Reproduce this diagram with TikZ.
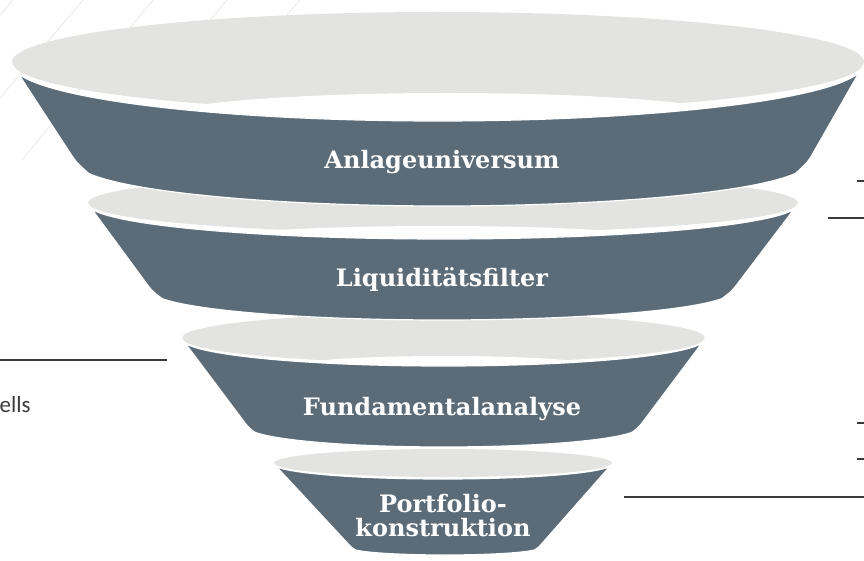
\documentclass[tikz,border=0pt]{standalone}
\usepackage{fontspec}
\usetikzlibrary{calc}
\newfontfamily\slabfont{DejaVu Serif}
\newfontfamily\calfont{Carlito}
\definecolor{funneldark}{HTML}{5B6C78}
\definecolor{funnellight}{HTML}{E3E3E1}
\definecolor{guidegray}{HTML}{3A3A3A}
\definecolor{bglinecol}{HTML}{E8E8E8}
\tikzset{
  darkband/.style={fill=funneldark, draw=white, line width=1.2pt},
  rimfill/.style={fill=funnellight},
  holefill/.style={fill=white},
  stagelabel/.style={font=\slabfont\bfseries\fontsize{24}{24}\selectfont, text=white, inner sep=0pt, align=center},
  guide/.style={draw=guidegray, line width=1.2pt},
  bgline/.style={draw=bglinecol, line width=0.8pt}
}
% #1,#2 top centre (tip height)  #3 top x radius  #4 top sag
% #5,#6 bottom centre (corner height)  #7 bottom x radius  #8 bottom sag
\newcommand\funnelband[8]{%
  \fill[darkband] plot[domain=180:0, samples=90, variable=\t] ({#1+#3*cos(\t)},{#2+#4*sin(\t)})
    -- ($({#1+#3},#2)!0.9!({#5+#7},#6)$) .. controls ({#5+#7},#6) .. ({#5+#7*cos(15)},{#6+#8*sin(15)})
    -- plot[domain=15:165, samples=70, variable=\t] ({#5+#7*cos(\t)},{#6+#8*sin(\t)})
    .. controls ({#5-#7},#6) .. ($({#1-#3},#2)!0.9!({#5-#7},#6)$) -- cycle;}
\begin{document}
\begin{tikzpicture}[x=1pt,y=-1pt]
\useasboundingbox (0,0) rectangle (864,561);
% faint background lines
\begin{scope}
\clip (0,0) rectangle (864,561);
\draw[bgline] (13,0) -- (0,15);
\draw[bgline] (83,0) -- (0,98);
\draw[bgline] (153,0) -- (22,160);
\draw[bgline] (227,0) -- (205,26);
\draw[bgline] (300,0) -- (200,117);
\end{scope}
% stage 4
\fill[rimfill] (443,463) ellipse [x radius=169pt, y radius=14pt];
\funnelband{443}{464}{169}{15}{445}{548}{93}{7}
\node[stagelabel, anchor=north] (s4) at (443,494) {Portfolio-\\konstruktion};
% stage 3
\fill[rimfill] (443.5,338) ellipse [x radius=261.5pt, y radius=25pt];
\fill[holefill] (445,366) ellipse [x radius=150pt, y radius=10pt];
\funnelband{443.5}{339}{261.5}{27}{443.5}{427}{195.5}{20}
\node[stagelabel, anchor=base] (s3) at (442,415) {Fundamentalanalyse};
% stage 2
\fill[rimfill] (443,203) ellipse [x radius=355pt, y radius=30pt];
\fill[holefill] (438,240) ellipse [x radius=228pt, y radius=14pt];
\funnelband{443}{204}{355}{35}{442}{291}{290}{29}
\node[stagelabel, anchor=base] (s2) at (442,287) {Liquiditätsfilter};
% stage 1
\fill[rimfill] (438,62) ellipse [x radius=426pt, y radius=50pt];
\fill[holefill] (447,118) ellipse [x radius=290pt, y radius=25pt];
\funnelband{438}{64}{426}{57}{442}{162}{366}{44}
\node[stagelabel, anchor=base] (s1) at (442,169) {Anlageuniversum};
% guide lines
\coordinate (la) at (0,360);   \coordinate (lb) at (167,360);
\draw[guide] (la) -- (lb);
\node[anchor=base west, inner sep=0pt, font=\calfont\fontsize{23}{28}\selectfont, text=guidegray] (leftlabel) at (-0.5,412.7) {ells};
\coordinate (ra1) at (857,181); \coordinate (rb1) at (864,181);
\coordinate (ra2) at (828,218); \coordinate (rb2) at (864,218);
\coordinate (ra3) at (857,423); \coordinate (rb3) at (864,423);
\coordinate (ra4) at (857,459); \coordinate (rb4) at (864,459);
\coordinate (ra5) at (624,497); \coordinate (rb5) at (864,497);
\draw[guide] (ra1) -- (rb1);
\draw[guide] (ra2) -- (rb2);
\draw[guide] (ra3) -- (rb3);
\draw[guide] (ra4) -- (rb4);
\draw[guide] (ra5) -- (rb5);
\end{tikzpicture}
\end{document}
